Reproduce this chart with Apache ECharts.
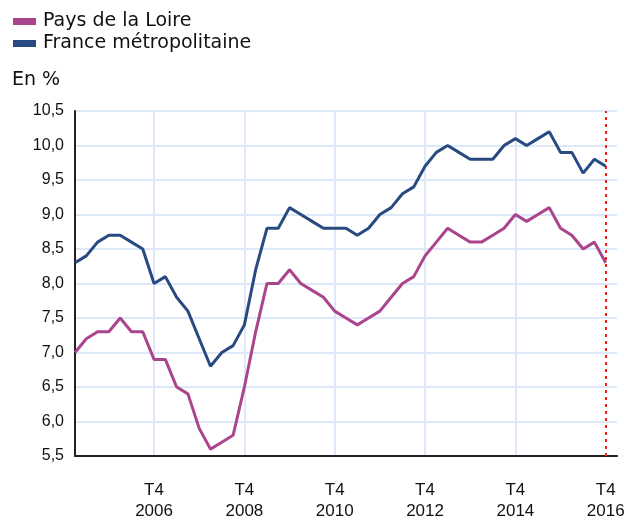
<!DOCTYPE html>
<html>
<head>
<meta charset="utf-8">
<script src="https://cdn.jsdelivr.net/npm/echarts@6/dist/echarts.min.js"></script>
<style>
html,body{margin:0;padding:0;background:#fff;}
#chart{width:626px;height:518px;}
</style>
</head>
<body>
<div id="chart"></div>
<script>
// Quarters T1 2005 .. T4 2016 (48 points)
var years = [2005, 2006, 2007, 2008, 2009, 2010, 2011, 2012, 2013, 2014, 2015, 2016];
var quarters = ['T1', 'T2', 'T3', 'T4'];
var seriesNames = ['Pays de la Loire', 'France métropolitaine'];
var paysDeLaLoire = [
  7.0, 7.2, 7.3, 7.3, 7.5, 7.3, 7.3, 6.9, 6.9, 6.5,
  6.4, 5.9, 5.6, 5.7, 5.8, 6.5, 7.3, 8.0, 8.0, 8.2,
  8.0, 7.9, 7.8, 7.6, 7.5, 7.4, 7.5, 7.6, 7.8, 8.0,
  8.1, 8.4, 8.6, 8.8, 8.7, 8.6, 8.6, 8.7, 8.8, 9.0,
  8.9, 9.0, 9.1, 8.8, 8.7, 8.5, 8.6, 8.3
];
var franceMetro = [
  8.3, 8.4, 8.6, 8.7, 8.7, 8.6, 8.5, 8.0, 8.1, 7.8,
  7.6, 7.2, 6.8, 7.0, 7.1, 7.4, 8.2, 8.8, 8.8, 9.1,
  9.0, 8.9, 8.8, 8.8, 8.8, 8.7, 8.8, 9.0, 9.1, 9.3,
  9.4, 9.7, 9.9, 10.0, 9.9, 9.8, 9.8, 9.8, 10.0, 10.1,
  10.0, 10.1, 10.2, 9.9, 9.9, 9.6, 9.8, 9.7
];
var yTicks = { min: 5.5, max: 10.5, step: 0.5 };
var markerCategory = 'T4 2016';
var unitLabel = 'En %';

var categories = [];
years.forEach(function (y) { quarters.forEach(function (q) { categories.push(q + ' ' + y); }); });
categories.push(''); // extra room after the last quarter

var FONT = '"Liberation Sans", Arial, sans-serif';
var FONT_WIDE = '"DejaVu Sans", Verdana, sans-serif';
var chart = echarts.init(document.getElementById('chart'), null, { renderer: 'canvas' });
function isLabelIdx(idx) { return idx % 8 === 7; }

chart.setOption({
  animation: false,
  backgroundColor: '#ffffff',
  title: {
    text: unitLabel, left: 7, top: 66,
    textStyle: { fontFamily: FONT_WIDE, fontSize: 19, fontWeight: 'normal', color: '#111' }
  },
  legend: {
    orient: 'vertical', left: 8, top: 7,
    itemWidth: 23, itemHeight: 7, itemGap: 3,
    icon: 'rect',
    data: seriesNames,
    textStyle: { fontFamily: FONT_WIDE, fontSize: 19, color: '#111', padding: [0, 0, 0, 2] }
  },
  grid: { left: 75, right: 9, top: 111, bottom: 62, containLabel: false, outerBoundsMode: 'none' },
  xAxis: {
    type: 'category',
    data: categories,
    boundaryGap: false,
    axisLine: { lineStyle: { color: '#222', width: 2 } },
    axisTick: { show: false },
    axisLabel: {
      interval: function (idx) { return isLabelIdx(idx); },
      formatter: function (v) { return v.replace(' ', '\n'); },
      fontFamily: FONT, fontSize: 17, color: '#111', lineHeight: 21, margin: 24
    },
    splitLine: {
      show: true,
      interval: function (idx) { return isLabelIdx(idx) && idx < 47; },
      lineStyle: { color: '#dde9f9', width: 2 }
    }
  },
  yAxis: {
    type: 'value',
    min: yTicks.min, max: yTicks.max, interval: yTicks.step,
    axisLine: { show: true, lineStyle: { color: '#222', width: 2 } },
    axisTick: { show: false },
    axisLabel: {
      formatter: function (v) { return v.toFixed(1).replace('.', ','); },
      fontFamily: FONT, fontSize: 16, color: '#111', margin: 11,
      padding: [8, 0, 0, 0]
    },
    splitLine: { show: true, lineStyle: { color: '#dde9f9', width: 2 } }
  },
  series: [
    {
      name: seriesNames[0], type: 'line', data: paysDeLaLoire,
      symbol: 'none', color: '#a9448d',
      lineStyle: { width: 3, color: '#a9448d' }, z: 3,
      markLine: {
        silent: true, symbol: 'none', label: { show: false },
        lineStyle: { type: [3, 4], color: '#ff1a1a', width: 2 },
        data: [{ xAxis: markerCategory }]
      }
    },
    {
      name: seriesNames[1], type: 'line', data: franceMetro,
      symbol: 'none', color: '#284a80',
      lineStyle: { width: 3, color: '#284a80' }, z: 3
    }
  ]
});
</script>
</body>
</html>
